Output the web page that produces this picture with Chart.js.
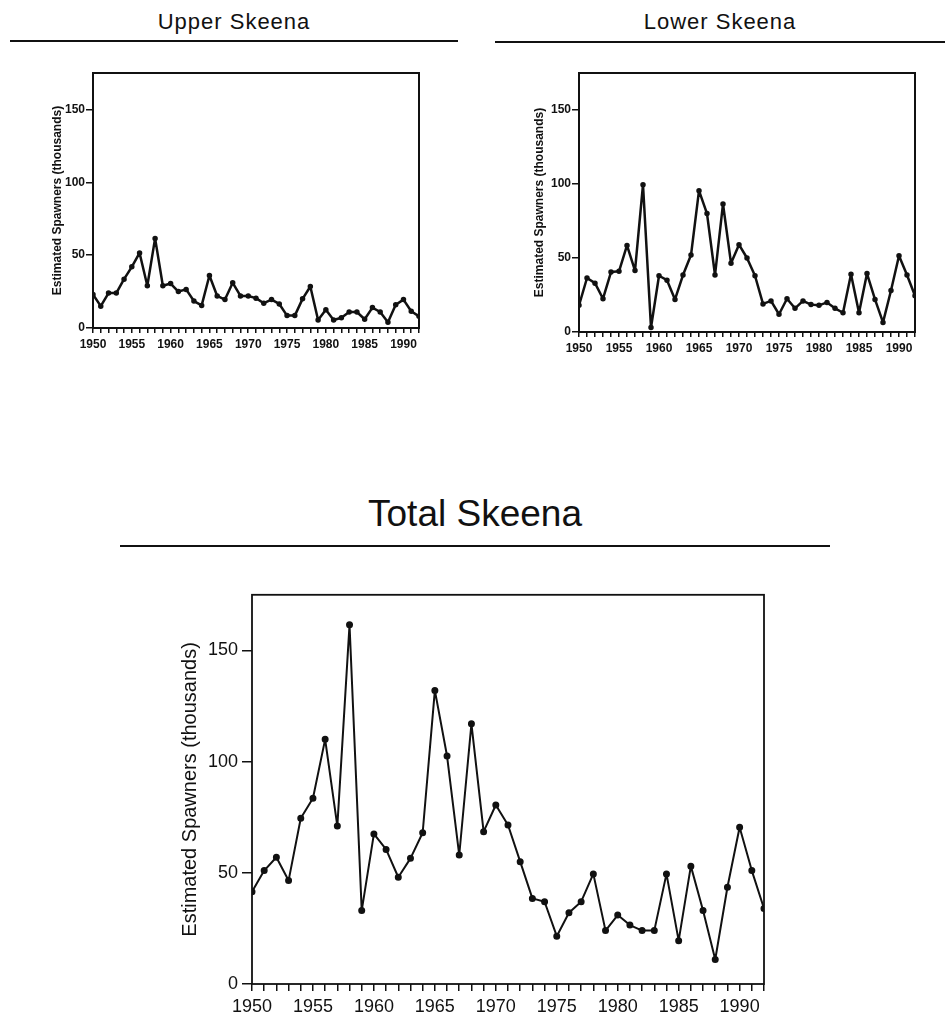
<!DOCTYPE html>
<html lang="en">
<head>
    <meta charset="UTF-8">
    <title>Skeena Estimated Spawners</title>
    <script src="https://cdn.jsdelivr.net/npm/chart.js"></script>
    <style>
        body { margin: 0; background: #fff; width: 945px; height: 1021px; position: relative; overflow: hidden; font-family: "Liberation Sans", Arial, sans-serif; color: #111; }
        .titulo { position: absolute; text-align: center; white-space: nowrap; }
        .linha { position: absolute; height: 2px; background: #111; }
        canvas { position: absolute; }
    </style>
</head>
<body>
    <div class="titulo" style="left:10px; width:448px; top:9px; font-size:22px; letter-spacing:1px;">Upper Skeena</div>
    <div class="linha" style="left:10px; width:448px; top:40px;"></div>

    <div class="titulo" style="left:495px; width:450px; top:9px; font-size:22px; letter-spacing:1px;">Lower Skeena</div>
    <div class="linha" style="left:495px; width:450px; top:41px;"></div>

    <div class="titulo" style="left:120px; width:710px; top:493px; font-size:37px;">Total Skeena</div>
    <div class="linha" style="left:120px; width:710px; top:545px;"></div>

    <canvas id="graficoUpper" width="400" height="300" style="left:30px; top:60px;"></canvas>
    <canvas id="graficoLower" width="420" height="305" style="left:510px; top:60px;"></canvas>
    <canvas id="graficoTotal" width="630" height="440" style="left:150px; top:580px;"></canvas>

    <script>
        // Anos (1950-1992)
        const anos = [1950, 1951, 1952, 1953, 1954, 1955, 1956, 1957, 1958, 1959,
            1960, 1961, 1962, 1963, 1964, 1965, 1966, 1967, 1968, 1969,
            1970, 1971, 1972, 1973, 1974, 1975, 1976, 1977, 1978, 1979,
            1980, 1981, 1982, 1983, 1984, 1985, 1986, 1987, 1988, 1989,
            1990, 1991, 1992];

        // Estimated spawners (thousands)
        const upperSkeena = [23, 15, 24, 24, 33.5, 42, 51.5, 29, 61.5, 29,
            30.5, 25, 26.5, 18.5, 15.5, 36, 22, 19.5, 31, 22,
            22, 20.5, 17, 19.5, 16.5, 8.5, 8.5, 20, 28.5, 5.5,
            12.5, 5.5, 7, 11, 11, 6, 14, 11, 4, 16,
            19.5, 11.5, 8];

        const lowerSkeena = [18, 36.5, 33, 22.5, 40.5, 41, 58.5, 41.5, 99.5, 3,
            38, 35, 22, 38.5, 52, 95.5, 80, 38.5, 86.5, 46.5,
            59, 50, 38, 19, 21, 12, 22.5, 16, 21, 18.5,
            18, 20, 16, 13, 39, 13, 39.5, 22, 6.5, 28,
            51.5, 38.5, 24.5];

        const totalSkeena = [41.5, 51, 57, 46.5, 74.5, 83.5, 110, 71, 161.5, 33,
            67.5, 60.5, 48, 56.5, 68, 132, 102.5, 58, 117, 68.5,
            80.5, 71.5, 55, 38.5, 37, 21.5, 32, 37, 49.5, 24,
            31, 26.5, 24, 24, 49.5, 19.5, 53, 33, 11, 43.5,
            70.5, 51, 34];

        // Ticks do eixo Y
        const ticksY = [0, 50, 100, 150];
        const tituloY = 'Estimated Spawners (thousands)';

        // Moldura em volta da área do gráfico
        const moldura = {
            id: 'moldura',
            afterDraw(chart, args, opts) {
                const a = chart.chartArea;
                const ctx = chart.ctx;
                ctx.save();
                ctx.strokeStyle = '#111';
                ctx.lineWidth = opts.largura || 2;
                ctx.strokeRect(a.left, a.top, a.right - a.left, a.bottom - a.top);
                ctx.restore();
            }
        };

        function criarGrafico(id, valores, cfg) {
            const ctx = document.getElementById(id).getContext('2d');
            return new Chart(ctx, {
                type: 'line',
                data: {
                    datasets: [{
                        data: anos.map((ano, i) => ({ x: ano, y: valores[i] })),
                        borderColor: '#111',
                        backgroundColor: '#111',
                        borderWidth: cfg.linha,
                        borderJoinStyle: 'round',
                        pointRadius: cfg.ponto,
                        pointHoverRadius: cfg.ponto,
                        tension: 0,
                        fill: false
                    }]
                },
                plugins: [moldura],
                options: {
                    responsive: false,
                    animation: false,
                    layout: { padding: { top: cfg.padTop, right: cfg.padRight, left: 0, bottom: 0 } },
                    plugins: {
                        legend: { display: false },
                        tooltip: { enabled: false },
                        moldura: { largura: cfg.moldura }
                    },
                    scales: {
                        x: {
                            type: 'linear',
                            min: 1950,
                            max: 1992,
                            afterFit: s => { s.height = cfg.alturaX; },
                            border: { display: false },
                            grid: {
                                drawOnChartArea: false,
                                tickLength: cfg.tickX,
                                color: '#111',
                                lineWidth: 1.5
                            },
                            ticks: {
                                stepSize: 1,
                                autoSkip: false,
                                maxTicksLimit: 100,
                                maxRotation: 0,
                                padding: cfg.padX,
                                color: '#111',
                                font: cfg.fonteTicks,
                                callback: v => (v % 5 === 0 ? String(v) : '')
                            }
                        },
                        y: {
                            min: 0,
                            max: 175,
                            afterFit: s => { s.width = cfg.larguraY; },
                            afterBuildTicks: s => { s.ticks = ticksY.map(v => ({ value: v })); },
                            border: { display: false },
                            grid: {
                                drawOnChartArea: false,
                                tickLength: cfg.tickY,
                                color: '#111',
                                lineWidth: 1.5
                            },
                            ticks: {
                                padding: cfg.padY,
                                color: '#111',
                                font: cfg.fonteTicks
                            },
                            title: {
                                display: true,
                                text: tituloY,
                                color: '#111',
                                font: cfg.fonteTitulo,
                                padding: cfg.padTitulo
                            }
                        }
                    }
                }
            });
        }

        const pequeno = {
            linha: 2.5, ponto: 1.5, moldura: 2,
            padTop: 13, padRight: 11, alturaX: 32, larguraY: 63,
            tickX: 5, tickY: 7, padX: 4, padY: 1,
            fonteTicks: { family: 'Liberation Sans', size: 12, weight: 'bold' },
            fonteTitulo: { family: 'Liberation Sans', size: 12, weight: 'bold' },
            padTitulo: 20
        };

        criarGrafico('graficoUpper', upperSkeena, pequeno);
        criarGrafico('graficoLower', lowerSkeena, Object.assign({}, pequeno, {
            padRight: 15, alturaX: 33, larguraY: 69, padTitulo: 22
        }));
        criarGrafico('graficoTotal', totalSkeena, {
            linha: 2, ponto: 2.5, moldura: 1.8,
            padTop: 14, padRight: 16, alturaX: 36, larguraY: 102,
            tickX: 7, tickY: 10, padX: 5, padY: 4,
            fonteTicks: { family: 'Liberation Sans', size: 18 },
            fonteTitulo: { family: 'Liberation Sans', size: 20 },
            padTitulo: 28
        });
    </script>
</body>
</html>
